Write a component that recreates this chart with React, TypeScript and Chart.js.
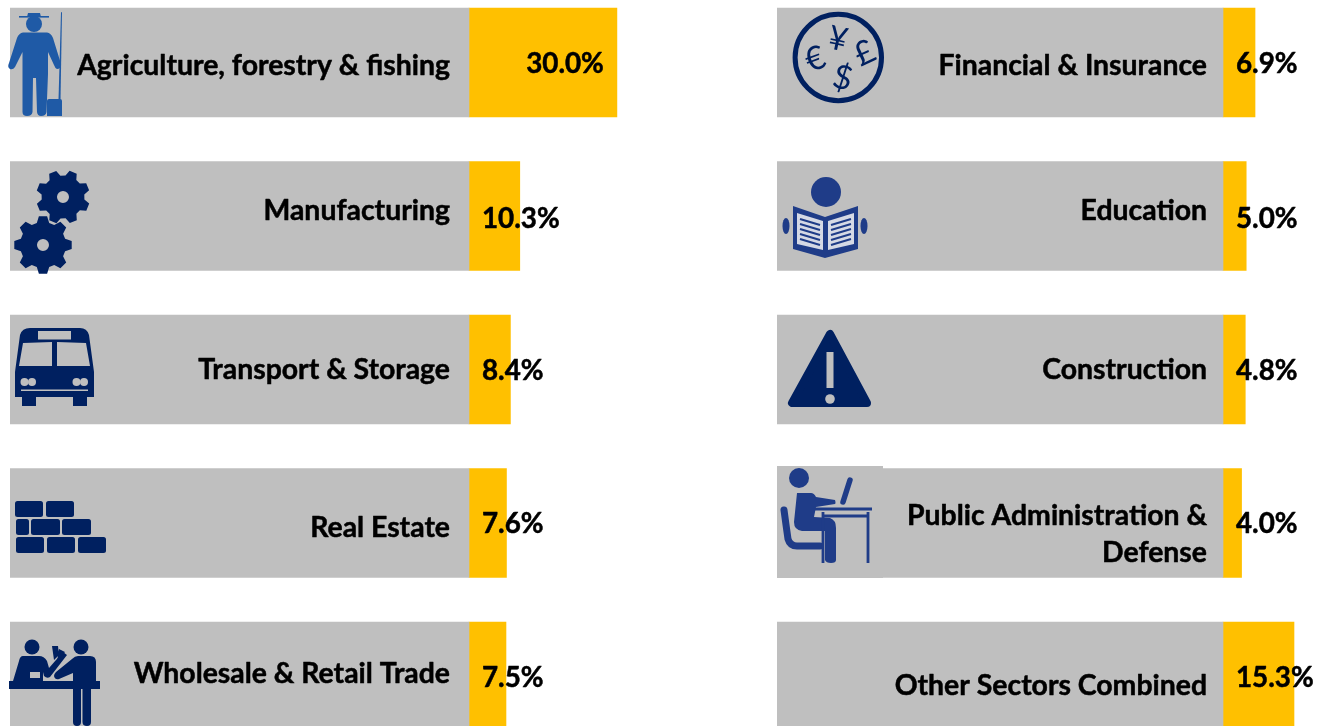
import React, { useEffect, useRef } from "react";
import { Chart, registerables } from "chart.js";

Chart.register(...registerables);

const leftCategories = [
  ["Agriculture, forestry & fishing"],
  ["Manufacturing"],
  ["Transport & Storage"],
  ["Real Estate"],
  ["Wholesale & Retail Trade"],
];
const leftValues = [30.0, 10.3, 8.4, 7.6, 7.5];
const rightCategories = [
  ["Financial & Insurance"],
  ["Education"],
  ["Construction"],
  ["Public Administration &", "Defense"],
  ["Other Sectors Combined"],
];
const rightValues = [6.9, 5.0, 4.8, 4.0, 15.3];

const GRAY = "#bfbfbf";
const GOLD = "#ffc000";
const NAVY = "#002060";
const NAME_FONT = '700 28.4px Lato, "Open Sans", sans-serif';
const VALUE_FONT = '700 27.8px Lato, "Open Sans", sans-serif';

// vertical nudges of the texts from each bar's centre
const leftNameDy = [3, -5, 0, 5, -3];
const rightNameDy = [3, -5, 0, -7, 9];
const valueDy = [2, 3, 2, 1, 2];

type PanelCfg = {
  labels: string[][];
  values: number[];
  span: number;
  max: number;
  padLeft: number;
  nameGap: number;
  nameDy: number[];
};

const textPlugin = (cfg: PanelCfg) => ({
  id: "panelText",
  afterDatasetsDraw(chart: any) {
    const { ctx, scales } = chart;
    const zero = scales.x.getPixelForValue(0);
    const put = (s: string, x: number, y: number) => {
      ctx.strokeText(s, x, y);
      ctx.fillText(s, x, y);
    };
    ctx.save();
    ctx.fillStyle = "#000";
    ctx.strokeStyle = "#000";
    ctx.lineWidth = 0.5;
    ctx.lineJoin = "round";
    ctx.textBaseline = "middle";
    cfg.labels.forEach((lines, i) => {
      const cy = scales.y.getPixelForValue(i);
      ctx.font = NAME_FONT;
      ctx.textAlign = "right";
      lines.forEach((line, k) => {
        put(line, zero - cfg.nameGap, cy + cfg.nameDy[i] + k * 37);
      });
      ctx.font = VALUE_FONT;
      const v = cfg.values[i];
      const txt = v.toFixed(1) + "%";
      if (v >= 20) {
        ctx.textAlign = "right";
        put(txt, scales.x.getPixelForValue(v) - 13, cy + valueDy[i]);
      } else {
        ctx.textAlign = "left";
        put(txt, zero + 13, cy + valueDy[i]);
      }
    });
    ctx.restore();
  },
});

function makeChart(canvas: HTMLCanvasElement, cfg: PanelCfg) {
  return new Chart(canvas, {
    type: "bar",
    data: {
      labels: cfg.labels.map((l) => l.join(" ")),
      datasets: [
        {
          label: "Panel",
          data: cfg.values.map(() => -cfg.span),
          backgroundColor: GRAY,
          borderWidth: 0,
          barThickness: 109,
        },
        {
          label: "Share",
          data: cfg.values,
          backgroundColor: GOLD,
          borderWidth: 0,
          barThickness: 109,
        },
      ],
    },
    options: {
      indexAxis: "y",
      animation: false,
      responsive: false,
      maintainAspectRatio: false,
      layout: { padding: { left: cfg.padLeft, right: 0, top: 5.75, bottom: 6.75 } },
      plugins: { legend: { display: false }, tooltip: { enabled: false } },
      scales: {
        x: { display: false, stacked: true, min: -cfg.span, max: cfg.max },
        y: { display: false, stacked: true },
      },
    },
    plugins: [textPlugin(cfg)],
  } as any);
}

function gearPath(cx: number, cy: number, ro: number, ri: number, hole: number, rot: number) {
  const teeth = 8;
  const pts: string[] = [];
  for (let i = 0; i < teeth; i++) {
    const a = rot + (i * 2 * Math.PI) / teeth;
    const w = Math.PI / teeth;
    const seq: [number, number][] = [
      [ri, a - w * 0.7],
      [ro, a - w * 0.36],
      [ro, a + w * 0.36],
      [ri, a + w * 0.7],
    ];
    seq.forEach(([r, t]) => pts.push(`${(cx + r * Math.sin(t)).toFixed(1)} ${(cy - r * Math.cos(t)).toFixed(1)}`));
  }
  return (
    "M" + pts.join("L") + "Z" +
    `M${cx - hole} ${cy}a${hole} ${hole} 0 1 0 ${hole * 2} 0a${hole} ${hole} 0 1 0 ${-hole * 2} 0Z`
  );
}

function Icons() {
  const blue = "#1f5aa6";
  const deep = "#1f3c88";
  return (
    <svg width={1317} height={726} style={{ position: "absolute", left: 0, top: 0 }}>
      {/* farmer */}
      <g fill={blue} strokeLinejoin="round" strokeLinecap="round">
        <rect x={19} y={16} width={30} height={1.6} />
        <path d="M27 17 L28 13 H40 L41 17Z" />
        <circle cx={34} cy={24} r={8} />
        <path d="M23 32.500 H47 Q51 33 53 38 L61 64 Q61 69 57 69 Q55 68 54 65 L48 52 V74 L46.500 112 Q46 116 41 116 Q37.500 116 37 112 L36 78 H33 L32.500 112 Q32 116 27 116 Q22.500 116 22.500 112 V74 V52 L15 67 Q13 70 10 69 Q7 67 9 63 L17 38 Q19 33 23 32.500Z" />
        <path d="M61 12 L62 12.500 L60.500 100 H58.500Z" />
        <path d="M49 99 H60 Q62 99 62 101 V116 H47 V101 Q47 99 49 99Z" />
      </g>
      {/* gears */}
      <path d={gearPath(63, 197, 27, 21.5, 6, 0.39)} fill={NAVY} fillRule="evenodd" />
      <path d={gearPath(43, 245, 29, 23, 6, 0)} fill={NAVY} fillRule="evenodd" />
      {/* bus */}
      <g>
        <path
          d="M15 372 L20 335 Q22 328 30 328 H80 Q87 328 89 335 L94 372 V397 H87 V406 H73 V397 H36 V406 H22 V397 H15Z"
          fill={NAVY}
        />
        <rect x={38} y={331} width={33} height={8.5} fill={GRAY} />
        <path d="M23 343 L52 342 V366 H19Z M57 342 L86 343 L90 366 H57Z" fill={GRAY} />
        <circle cx={24.5} cy={382} r={4} fill={GRAY} />
        <circle cx={32} cy={382} r={4} fill={GRAY} />
        <circle cx={76.5} cy={382} r={4} fill={GRAY} />
        <circle cx={84} cy={382} r={4} fill={GRAY} />
        <rect x={21} y={389.5} width={67} height={1.5} fill={GRAY} />
      </g>
      {/* bricks */}
      <g fill={NAVY}>
        {[
          [15, 501, 28],
          [46, 501, 28],
          [16, 519, 13],
          [31, 519, 29],
          [62, 519, 29],
          [16, 537, 28],
          [47, 537, 28],
          [78, 537, 28],
        ].map(([x, y, w], i) => (
          <rect key={i} x={x} y={y} width={w} height={16} rx={2.5} />
        ))}
      </g>
      {/* retail */}
      <g fill={NAVY}>
        <circle cx={32} cy={647} r={7.5} />
        <circle cx={81} cy={647} r={7.5} />
        <rect x={9} y={681} width={91} height={8} />
        <path d="M23 656 H39 Q44 656 47 661 L49 668 L63 652 L67 655 L50 677 Q47 679 44 676 L43 672 V681 H13 L19 661 Q20 656 23 656Z" />
        <path d="M78 656 H90 Q96 656 96 662 V681 H91 V722 Q91 726 87 726 Q82.500 726 82.500 722 V689 H81 V722 Q81 726 77 726 Q73 726 73 722 V673 L59 679 Q55 680 54 676 Q54 674 56 672 L72 659 Q75 656 78 656Z" />
        <path d="M52 646 L58 646 L59 655 L54 660Z M59 649 L65 652 L57 662Z" />
        <rect x={30} y={672} width={10} height={6} fill={GRAY} />
      </g>
      {/* currency */}
      <g fill={NAVY} fontFamily="Lato, sans-serif" fontWeight={400} fontSize={33} textAnchor="middle">
        <circle cx={838.3} cy={57.5} r={43.2} fill="none" stroke={NAVY} strokeWidth={5} />
        <text transform="translate(838 38) rotate(12)" y={12}>¥</text>
        <text transform="translate(815 58) rotate(-20)" y={12}>€</text>
        <text transform="translate(864 52) rotate(-25)" y={12}>£</text>
        <text transform="translate(843 77) rotate(14)" y={12}>$</text>
      </g>
      {/* reader */}
      <g>
        <circle cx={826} cy={192} r={15} fill={deep} />
        <ellipse cx={786} cy={226} rx={3.5} ry={8} fill={deep} />
        <ellipse cx={864} cy={226} rx={3.5} ry={8} fill={deep} />
        <path d="M793 206 L825 217 L858 206 V249 L825 258 L793 249Z" fill={deep} />
        <path d="M797 213 L823 221 V250 L797 244Z M828 221 L854 213 V244 L828 250Z" fill="#d5d9e5" />
        <path
          d="M800 219 L820 225 M800 224 L820 230 M800 229 L820 235 M800 234 L820 240 M800 239 L820 245 M831 225 L851 219 M831 230 L851 224 M831 235 L851 229 M831 240 L851 234 M831 245 L851 239"
          stroke={deep}
          strokeWidth={2}
        />
      </g>
      {/* warning */}
      <path d="M830 334 L792 403 H867Z" fill={NAVY} stroke={NAVY} strokeWidth={8} strokeLinejoin="round" />
      <rect x={826.500} y={352} width={7} height={36} fill={GRAY} />
      <circle cx={830} cy={399} r={4.8} fill={GRAY} />
      {/* desk */}
      <g>
        <rect x={777} y={466} width={106} height={112} fill={GRAY} />
        <circle cx={799} cy={478} r={10} fill={deep} />
        <path
          d="M797 493 H811 Q814 493 816 497 L835 500 Q836 503 835 504 L816 507 L814 517 L830 518 Q836 520 836 528 V560 Q836 563 831 563 Q826 563 825 560 V531 L802 531 Q794 530 794 522Z"
          fill={deep}
        />
        <path d="M784 510 Q786 525 788 539 Q790 546 797 546 H820" fill="none" stroke={deep} strokeWidth={7} strokeLinecap="round" />
        <path d="M850 480 L843 502" stroke={deep} strokeWidth={5.5} strokeLinecap="round" />
        <path d="M813 509 H872 M823 512 V563 M868 512 V563 M822 516 H868" fill="none" stroke={deep} strokeWidth={2.8} />
      </g>
    </svg>
  );
}

export default function App() {
  const leftRef = useRef<HTMLCanvasElement>(null);
  const rightRef = useRef<HTMLCanvasElement>(null);

  useEffect(() => {
    const a = makeChart(leftRef.current!, {
      labels: leftCategories,
      values: leftValues,
      span: 459 / 4.93,
      max: 181 / 4.93,
      padLeft: 10,
      nameGap: 19,
      nameDy: leftNameDy,
    });
    const b = makeChart(rightRef.current!, {
      labels: rightCategories,
      values: rightValues,
      span: 446 / 4.64,
      max: 94 / 4.64,
      padLeft: 7,
      nameGap: 16,
      nameDy: rightNameDy,
    });
    return () => {
      a.destroy();
      b.destroy();
    };
  }, []);

  return (
    <div style={{ position: "fixed", inset: 0, overflow: "hidden", background: "#fff" }}>
      <canvas ref={leftRef} width={650} height={780} style={{ position: "absolute", left: 0, top: -20 }} />
      <canvas ref={rightRef} width={547} height={780} style={{ position: "absolute", left: 770, top: -20 }} />
      <Icons />
    </div>
  );
}
